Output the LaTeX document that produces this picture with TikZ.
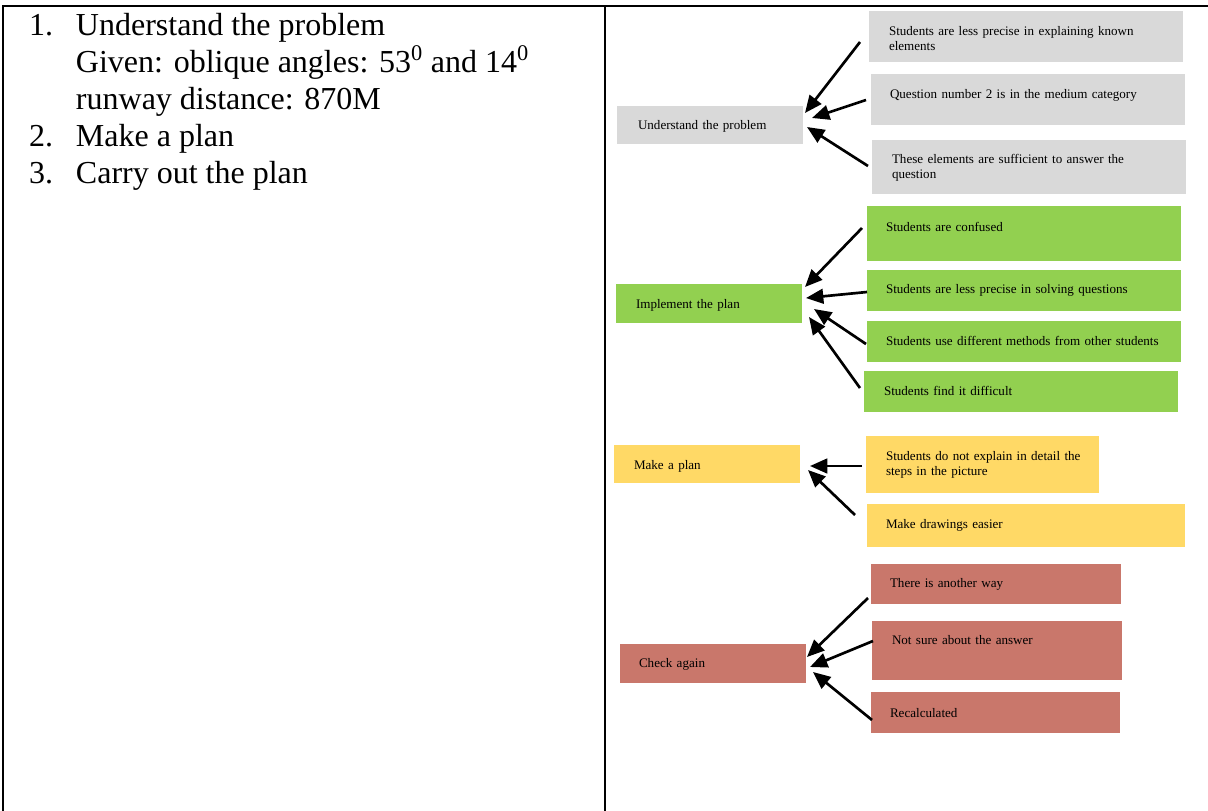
\documentclass[tikz,border=0pt]{standalone}
\usepackage{fontspec}
\setmainfont{Liberation Serif}
\usetikzlibrary{arrows.meta,calc,fit}

\definecolor{boxgray}{HTML}{D9D9D9}
\definecolor{boxgreen}{HTML}{92D050}
\definecolor{boxyellow}{HTML}{FFD966}
\definecolor{boxred}{HTML}{C9776B}

\begin{document}
\begin{tikzpicture}[x=0.75pt,y=-0.75pt,
  frame/.style={line width=1.5pt,line join=miter},
  panel/.style={draw=none,inner sep=0pt,outer sep=0pt},
  lbl/.style={anchor=base west,inner sep=0pt,outer sep=0pt,align=left,
    text width=260pt,font=\fontsize{9.8}{11.6}\selectfont},
  arr/.style={line width=2pt,-{Triangle[length=13pt,width=11pt]}},
  steps/.style={anchor=base west,inner sep=0pt,outer sep=0pt,
    font=\fontsize{24}{27.6}\selectfont}]

\useasboundingbox (0,0) rectangle (1208,811);

% table frame
\draw[frame] (3,811) -- (3,5.5) -- (1210,5.5);
\draw[frame] (604.5,5.5) -- (604.5,811);

% left cell: the steps
\node[steps] (steps) at (29,35) {%
  \begin{tabular}[t]{@{}p{35.25pt}@{}l@{}}
  1. & Understand the problem\\
     & Given: oblique angles: 53\textsuperscript{0} and 14\textsuperscript{0}\\
     & runway distance: 870M\\
  2. & Make a plan\\
  3. & Carry out the plan
  \end{tabular}};

% ---- understand the problem ----
\node[panel,fill=boxgray,fit={(617,106) (803,144)}] (u) {};
\node[lbl] at ($(u.north west)+(21,23)$) {Understand the problem};
\node[panel,fill=boxgray,fit={(869,11) (1183,62)}] (g1) {};
\node[lbl] at ($(g1.north west)+(20,24.5)$) {Students are less precise in explaining known\\elements};
\node[panel,fill=boxgray,fit={(871,74) (1185,125)}] (g2) {};
\node[lbl] at ($(g2.north west)+(19,24)$) {Question number 2 is in the medium category};
\node[panel,fill=boxgray,fit={(872,140) (1186,194)}] (g3) {};
\node[lbl] at ($(g3.north west)+(20,23.5)$) {These elements are sufficient to answer the\\question};

% ---- implement the plan ----
\node[panel,fill=boxgreen,fit={(616,284) (802,323)}] (im) {};
\node[lbl] at ($(im.north west)+(20,24)$) {Implement the plan};
\node[panel,fill=boxgreen,fit={(867,206) (1181,261)}] (r1) {};
\node[lbl] at ($(r1.north west)+(19,25)$) {Students are confused};
\node[panel,fill=boxgreen,fit={(867,270) (1181,311)}] (r2) {};
\node[lbl] at ($(r2.north west)+(19,23.5)$) {Students are less precise in solving questions};
\node[panel,fill=boxgreen,fit={(867,321) (1181,362)}] (r3) {};
\node[lbl] at ($(r3.north west)+(19,24.5)$) {Students use different methods from other students};
\node[panel,fill=boxgreen,fit={(864,371) (1178,412)}] (r4) {};
\node[lbl] at ($(r4.north west)+(20,24)$) {Students find it difficult};

% ---- make a plan ----
\node[panel,fill=boxyellow,fit={(614,445) (800,483)}] (pl) {};
\node[lbl] at ($(pl.north west)+(20,24)$) {Make a plan};
\node[panel,fill=boxyellow,fit={(866,436) (1099,493)}] (y1) {};
\node[lbl] at ($(y1.north west)+(20,24)$) {Students do not explain in detail the\\steps in the picture};
\node[panel,fill=boxyellow,fit={(867,504) (1185,547)}] (y2) {};
\node[lbl] at ($(y2.north west)+(19,24.5)$) {Make drawings easier};

% ---- check again ----
\node[panel,fill=boxred,fit={(620,644) (806,683)}] (ck) {};
\node[lbl] at ($(ck.north west)+(19,23.5)$) {Check again};
\node[panel,fill=boxred,fit={(871,564) (1121,604)}] (d1) {};
\node[lbl] at ($(d1.north west)+(19,23.5)$) {There is another way};
\node[panel,fill=boxred,fit={(872,621) (1122,680)}] (d2) {};
\node[lbl] at ($(d2.north west)+(20,23.5)$) {Not sure about the answer};
\node[panel,fill=boxred,fit={(871,692) (1120,733)}] (d3) {};
\node[lbl] at ($(d3.north west)+(19,25)$) {Recalculated};

% connector ends
\coordinate (g1s) at (860,42);  \coordinate (g1t) at (805,113);
\coordinate (g2s) at (866,100); \coordinate (g2t) at (812,118);
\coordinate (g3s) at (868,166); \coordinate (g3t) at (807,127);
\coordinate (r1s) at (862,228); \coordinate (r1t) at (805,287);
\coordinate (r2s) at (867,292); \coordinate (r2t) at (806,298);
\coordinate (r3s) at (866,344); \coordinate (r3t) at (814,309);
\coordinate (r4s) at (860,388); \coordinate (r4t) at (809,317);
\coordinate (y1s) at (862,466); \coordinate (y1t) at (810,466);
\coordinate (y2s) at (855,515); \coordinate (y2t) at (808,470);
\coordinate (d1s) at (868,598); \coordinate (d1t) at (807,657);
\coordinate (d2s) at (873,641); \coordinate (d2t) at (810,667);
\coordinate (d3s) at (872,720); \coordinate (d3t) at (813,672);

\foreach \k in {g1,g2,g3,r1,r2,r3,r4,y1,y2,d1,d2,d3}
  \draw[arr] (\k s) -- (\k t);

\end{tikzpicture}
\end{document}
